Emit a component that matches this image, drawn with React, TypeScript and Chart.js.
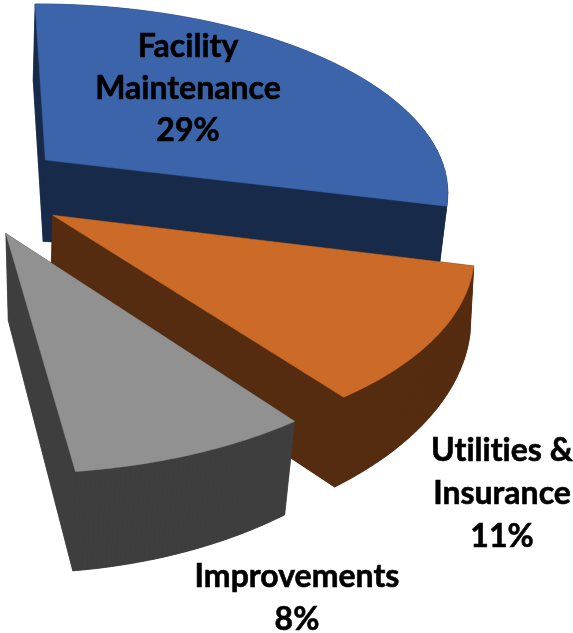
import React, { useEffect, useRef } from "react";
import { Chart, registerables } from "chart.js";
Chart.register(...registerables);

const categories = ["Facility Maintenance", "Utilities & Insurance", "Improvements"];
const values = [29, 11, 8];
const explode = [0.25, 0.25, 0.25];
const topColors = ["#3b64ab", "#cc6b27", "#919191"];
const wallColors = ["#182a4a", "#562c10", "#3e3e3e"];
const labelLines = [["Facility", "Maintenance"], ["Utilities &", "Insurance"], ["Improvements"]];
const labelAnchors = [[188, 47, 42], [502, 451, 43], [297, 577, 43]];

// Camera: homographies from the pie's unit plane to the screen, for the top and bottom faces.
const topPlane = [392.42964, -95.56702, -32.65299, 38.74022, 154.303428, 188.30326, -0.040696, -0.147468];
const bottomPlane = [345.4778, -83.79148, -25.93568, -8.34518, 156.490021, 275.393223, -0.122294, -0.13402];

const proj = (h: number[], X: number, Y: number) => {
  const w = h[6] * X + h[7] * Y + 1;
  return [(h[0] * X + h[1] * Y + h[2]) / w, (h[3] * X + h[4] * Y + h[5]) / w];
};

const poly = (ctx: CanvasRenderingContext2D, pts: number[][], color: string) => {
  ctx.beginPath();
  pts.forEach((p, i) => (i ? ctx.lineTo(p[0], p[1]) : ctx.moveTo(p[0], p[1])));
  ctx.closePath();
  ctx.fillStyle = color;
  ctx.strokeStyle = color;
  ctx.lineWidth = 0.5;
  ctx.fill();
  ctx.stroke();
};

const pie3d = {
  id: "pie3d",
  beforeDatasetDraw(chart: any) {
    const ctx = chart.ctx;
    chart.getDatasetMeta(0).data.forEach((arc: any, i: number) => {
      const { startAngle: a0, endAngle: a1 } = arc;
      const mid = (a0 + a1) / 2;
      const ox = explode[i] * Math.cos(mid);
      const oy = explode[i] * Math.sin(mid);
      const ring: number[][] = [];
      const N = 48;
      for (let k = 0; k <= N; k++) {
        const a = a0 + ((a1 - a0) * k) / N;
        ring.push([ox + Math.cos(a), oy + Math.sin(a)]);
      }
      const shape = [[ox, oy], ...ring];
      const top = shape.map((p) => proj(topPlane, p[0], p[1]));
      const bot = shape.map((p) => proj(bottomPlane, p[0], p[1]));
      poly(ctx, bot, wallColors[i]);
      for (let k = 0; k < shape.length; k++) {
        const n = (k + 1) % shape.length;
        poly(ctx, [top[k], top[n], bot[n], bot[k]], wallColors[i]);
      }
      poly(ctx, top, topColors[i]);
    });
    return false;
  },
  afterDatasetsDraw(chart: any) {
    const ctx = chart.ctx;
    ctx.save();
    ctx.font = "700 32px Lato";
    ctx.letterSpacing = "0.01px";
    ctx.textAlign = "center";
    ctx.textBaseline = "middle";
    ctx.fillStyle = "#000";
    ctx.strokeStyle = "#000";
    ctx.lineWidth = 0.6;
    labelLines.forEach((lines, i) => {
      const [x, y, dy] = labelAnchors[i];
      [...lines, values[i] + "%"].forEach((t, j) => {
        ctx.fillText(t, x, y + j * dy);
        ctx.strokeText(t, x, y + j * dy);
      });
    });
    ctx.restore();
  },
};

export default function App() {
  const ref = useRef<HTMLCanvasElement>(null);
  useEffect(() => {
    document.body.style.margin = "0";
    const chart = new Chart(ref.current!, {
      type: "pie",
      data: { labels: categories, datasets: [{ data: values, backgroundColor: topColors }] },
      options: {
        responsive: false,
        animation: false,
        rotation: -14.4,
        circumference: 172.8,
        plugins: { legend: { display: false }, tooltip: { enabled: false } },
      },
      plugins: [pie3d],
    } as any);
    return () => chart.destroy();
  }, []);
  return <canvas ref={ref} width={573} height={633} style={{ display: "block" }} />;
}
